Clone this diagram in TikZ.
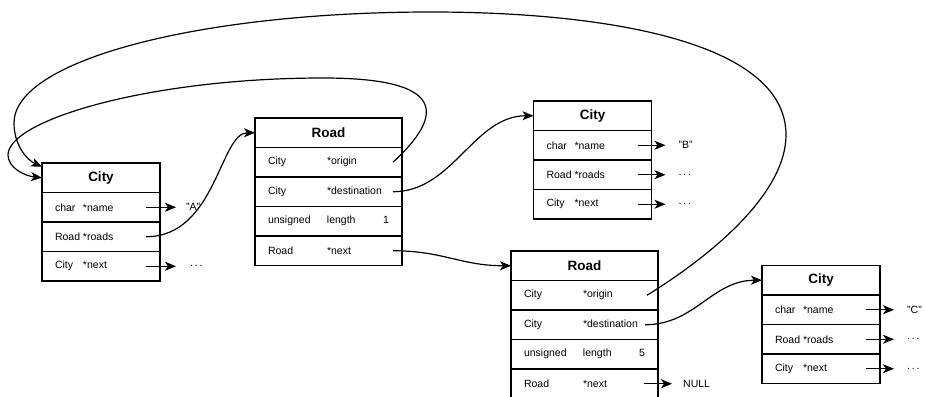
\documentclass[tikz,border=0pt]{standalone}
\usepackage{fontspec}
\setmainfont{Liberation Sans}
\usetikzlibrary{positioning}
\usetikzlibrary{arrows.meta}

\begin{document}
\begin{tikzpicture}[x=1pt, y=-1pt,
  every node/.style={font=\fontsize{10.5}{12}\selectfont},
  head/.style={draw, line width=1.3pt, minimum height=29.5pt, anchor=north west, inner sep=0pt, outer sep=0pt, font=\fontsize{13.5}{16}\selectfont\bfseries},
  cityhead/.style={head, minimum width=118pt},
  roadhead/.style={head, minimum width=147pt},
  field/.style={draw, line width=1.3pt, minimum height=29.5pt, inner xsep=13pt, inner ysep=0pt, outer sep=0pt, align=left},
  cityrow/.style={field, text width=92pt, below=0pt of #1},
  roadrow/.style={field, text width=121pt, below=0pt of #1},
  val/.style={inner sep=0pt, right=27pt of #1},
  ptr/.style={-{Stealth[length=11pt, width=9pt, inset=3pt]}, line width=1.2pt}]
\useasboundingbox (0,0) rectangle (925,396);

% city A
\node[cityhead] at (42,163) (cA) {City};
\node[cityrow=cA] (cAname) {\makebox[28pt][l]{char}*name};
\node[cityrow=cAname] (cAroads) {\makebox[28pt][l]{Road}*roads};
\node[cityrow=cAroads] (cAnext) {\makebox[28pt][l]{City}*next};
\node[val=cAname, xshift=-1pt] (vA) {"A"};
\node[val=cAnext, xshift=3pt] (vAnext) {.\,.\,.};

% first road
\node[roadhead] at (255,118) (r1) {Road};
\node[roadrow=r1] (r1o) {\makebox[59pt][l]{City}*origin};
\node[roadrow=r1o] (r1d) {\makebox[59pt][l]{City}*destination};
\node[roadrow=r1d] (r1l) {\makebox[59pt][l]{unsigned}length\hfill 1};
\node[roadrow=r1l] (r1n) {\makebox[59pt][l]{Road}*next};

% city B
\node[cityhead] at (533.5,101) (cB) {City};
\node[cityrow=cB] (cBname) {\makebox[28pt][l]{char}*name};
\node[cityrow=cBname] (cBroads) {\makebox[28pt][l]{Road}*roads};
\node[cityrow=cBroads] (cBnext) {\makebox[28pt][l]{City}*next};
\node[val=cBname] (vB) {"B"};
\node[val=cBroads] (vBroads) {.\,.\,.};
\node[val=cBnext] (vBnext) {.\,.\,.};

% second road
\node[roadhead] at (511,251) (r2) {Road};
\node[roadrow=r2] (r2o) {\makebox[59pt][l]{City}*origin};
\node[roadrow=r2o] (r2d) {\makebox[59pt][l]{City}*destination};
\node[roadrow=r2d] (r2l) {\makebox[59pt][l]{unsigned}length\hfill 5};
\node[roadrow=r2l] (r2n) {\makebox[59pt][l]{Road}*next};
\node[val=r2n, xshift=-2pt] (vNULL) {NULL};

% city C
\node[cityhead] at (762,265.5) (cC) {City};
\node[cityrow=cC] (cCname) {\makebox[28pt][l]{char}*name};
\node[cityrow=cCname] (cCroads) {\makebox[28pt][l]{Road}*roads};
\node[cityrow=cCroads] (cCnext) {\makebox[28pt][l]{City}*next};
\node[val=cCname] (vC) {"C"};
\node[val=cCroads] (vCroads) {.\,.\,.};
\node[val=cCnext] (vCnext) {.\,.\,.};

% short pointers
\draw[ptr] ([xshift=-14pt]cAname.east) -- ([xshift=-10pt]vA.west);
\draw[ptr] ([xshift=-14pt]cAnext.east) -- ([xshift=-14pt]vAnext.west);
\draw[ptr] ([xshift=-14pt]cBname.east) -- ([xshift=-13pt]vB.west);
\draw[ptr] ([xshift=-14pt]cBroads.east) -- ([xshift=-13pt]vBroads.west);
\draw[ptr] ([xshift=-14pt]cBnext.east) -- ([xshift=-13pt]vBnext.west);
\draw[ptr] ([xshift=-14pt]cCname.east) -- ([xshift=-13pt]vC.west);
\draw[ptr] ([xshift=-14pt]cCroads.east) -- ([xshift=-13pt]vCroads.west);
\draw[ptr] ([xshift=-14pt]cCnext.east) -- ([xshift=-13pt]vCnext.west);
\draw[ptr] ([xshift=-14pt]r2n.east) -- ([xshift=-11pt]vNULL.west);

% curved pointers
\draw[ptr] ([xshift=-14pt]cAroads.east) .. controls +(70,0) and +(-35,0) .. (r1.west);
\draw[ptr] ([xshift=-9pt]r1d.east) .. controls +(60,0) and +(-60,0) .. (cB.west);
\draw[ptr] ([xshift=-9pt]r1n.east) .. controls +(50,0) and +(-50,0) .. (r2.west);
\draw[ptr] ([xshift=-13pt]r2d.east) .. controls +(50,0) and +(-50,0) .. (cC.west);
\draw[ptr] ([xshift=-9pt]r1o.east) .. controls (455,105) and (430,78) .. (323,78)
  .. controls (150,78) and (8,120) .. (8,155)
  .. controls (8,168) and (25,176) .. (cA.west);
\draw[ptr] ([xshift=-11pt]r2o.east) .. controls (720,250) and (786,190) .. (786,135)
  .. controls (786,40) and (600,12) .. (431,12)
  .. controls (200,12) and (14,60) .. (14,123)
  .. controls (14,145) and (27,160) .. ([yshift=11pt]cA.west);
\end{tikzpicture}
\end{document}
